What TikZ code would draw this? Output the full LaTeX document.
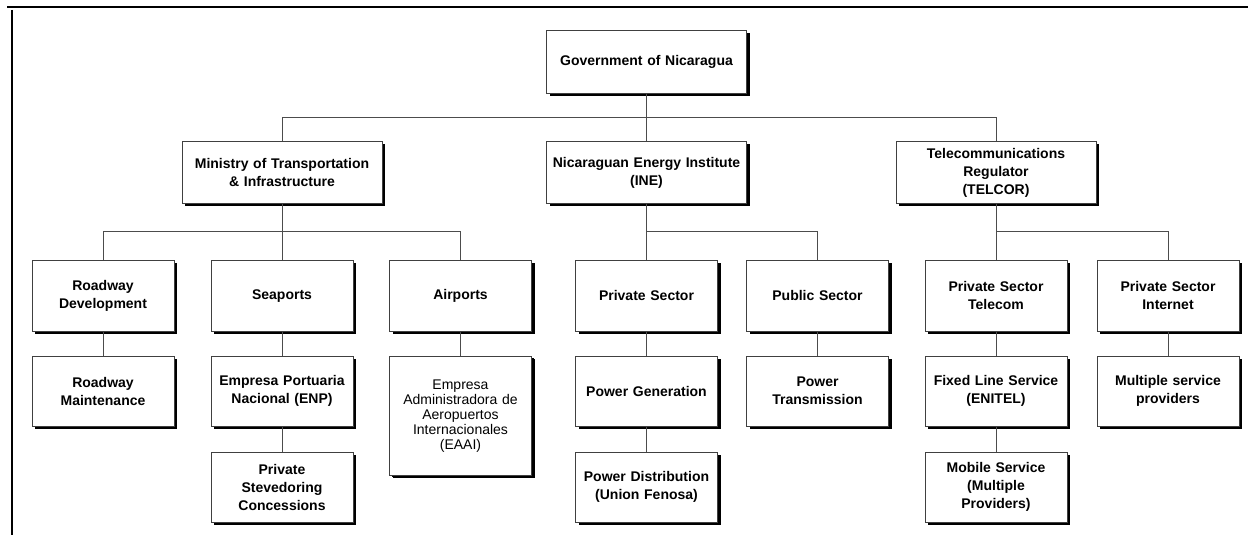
\documentclass[tikz,border=0pt]{standalone}
\usepackage{fontspec}
\setmainfont{Liberation Sans}
\usepackage{tikz}
\usetikzlibrary{positioning,calc,shadows}

\begin{document}
\begin{tikzpicture}[x=1pt, y=-1pt, node distance=24pt,
  every node/.style={font=\fontsize{14}{18}\selectfont\bfseries},
  box/.style={draw=black!75, line width=0.8pt, fill=white, align=center, anchor=north,
    inner xsep=2pt, inner ysep=0pt, text width=138pt, minimum height=70pt,
    drop shadow={shadow xshift=3pt, shadow yshift=-3pt, fill=black, opacity=1}},
  head/.style={box, text width=196pt, minimum height=62pt},
  link/.style={draw=black!70, line width=0.9pt}]
\useasboundingbox (0,0) rectangle (1248,535);
\draw[line width=2pt] (7,7) -- (1248,7);
\draw[line width=2pt] (12,10) -- (12,535);

\node[head, minimum height=63pt] (gov) at (646.5,30) {Government of Nicaragua};
\node[head] (mti) at (282,141) {Ministry of Transportation\\\& Infrastructure};
\node[head] (ine) at (646.5,141) {Nicaraguan Energy Institute\\(INE)};
\node[head] (telcor) at (996,141) {Telecommunications\\Regulator\\(TELCOR)};

\node[box, minimum height=71pt] (roaddev) at (103,260) {Roadway\\Development};
\node[box, minimum height=71pt] (seaports) at (282,260) {Seaports};
\node[box, minimum height=71pt] (airports) at (460.5,260) {Airports};
\node[box, minimum height=71pt] (privsec) at (646.5,260) {Private Sector};
\node[box, minimum height=71pt] (pubsec) at (817.5,260) {Public Sector};
\node[box, minimum height=71pt] (privtel) at (996,260) {Private Sector\\Telecom};
\node[box, minimum height=71pt] (privnet) at (1168,260) {Private Sector\\Internet};

\node[box, below=of roaddev] (roadmnt) {Roadway\\Maintenance};
\node[box, below=of seaports] (enp) {Empresa Portuaria\\Nacional (ENP)};
\node[box, below=of airports, minimum height=119pt, font=\fontsize{14}{15}\selectfont,
  drop shadow={shadow xshift=2pt, shadow yshift=-2pt, fill=black, opacity=1}] (eaai)
  {Empresa\\Administradora de\\Aeropuertos\\Internacionales\\(EAAI)};
\node[box, below=of privsec] (powgen) {Power Generation};
\node[box, below=of pubsec] (powtrans) {Power\\Transmission};
\node[box, below=of privtel] (enitel) {Fixed Line Service\\(ENITEL)};
\node[box, below=of privnet] (multi) {Multiple service\\providers};

\node[box, below=25pt of enp] (steve) {Private\\Stevedoring\\Concessions};
\node[box, below=25pt of powgen] (powdist) {Power Distribution\\(Union Fenosa)};
\node[box, below=25pt of enitel] (mobile) {Mobile Service\\(Multiple\\Providers)};

\coordinate (bus0) at ($(gov.south)!.5!(ine.north)$);
\coordinate (bus1) at ($(mti.south)!.5!(seaports.north)$);
\coordinate (bus2) at ($(ine.south)!.5!(privsec.north)$);
\coordinate (bus3) at ($(telcor.south)!.5!(privtel.north)$);

\draw[link] (gov.south) -- (ine.north);
\draw[link] (mti.north) |- (bus0) -| (telcor.north);
\draw[link] (mti.south) -- (seaports.north);
\draw[link] (roaddev.north) |- (bus1) -| (airports.north);
\draw[link] (ine.south) -- (privsec.north);
\draw[link] (privsec.north) |- (bus2) -| (pubsec.north);
\draw[link] (telcor.south) -- (privtel.north);
\draw[link] (privtel.north) |- (bus3) -| (privnet.north);
\draw[link] (roaddev.south) -- (roadmnt.north);
\draw[link] (seaports.south) -- (enp.north);
\draw[link] (enp.south) -- (steve.north);
\draw[link] (airports.south) -- (eaai.north);
\draw[link] (privsec.south) -- (powgen.north);
\draw[link] (powgen.south) -- (powdist.north);
\draw[link] (pubsec.south) -- (powtrans.north);
\draw[link] (privtel.south) -- (enitel.north);
\draw[link] (enitel.south) -- (mobile.north);
\draw[link] (privnet.south) -- (multi.north);
\end{tikzpicture}
\end{document}
